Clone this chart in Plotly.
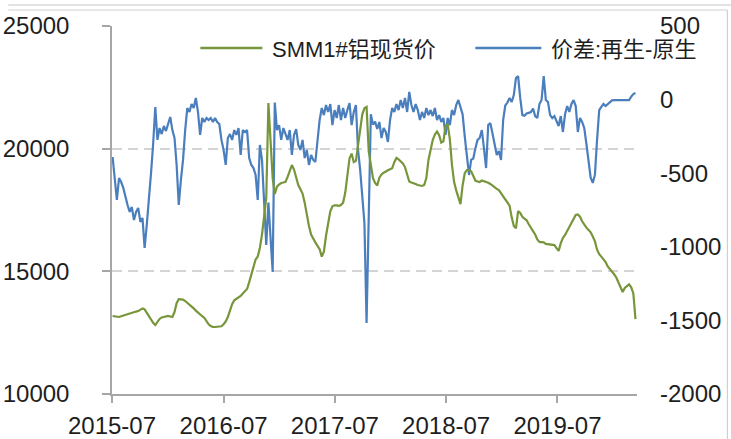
import pandas as pd
import plotly.graph_objects as go

# ---------------- data (weekly samples) ----------------
start_date = "2015-07-03"

spread = [  # 价差:再生-原生 (right axis)
    -390, -560, -682, -533, -560, -600, -668, -716, -763, -730,
    -818, -763, -736, -831, -804, -1008, -852, -700, -500, -300,
    -50, -274, -193, -234, -179, -213, -166, -118, -207, -261,
    -444, -716, -546, -410, -207, -57, -84, -30, -57, 11,
    -84, -240, -125, -152, -125, -139, -125, -152, -125, -152,
    -166, -274, -342, -444, -261, -234, -274, -207, -240, -193,
    -376, -207, -220, -207, -397, -444, -465, -512, -682, -308,
    -410, -682, -988, -700, -950, -1171, -20, -207, -173, -274,
    -193, -240, -274, -207, -376, -240, -200, -308, -342, -274,
    -397, -342, -444, -376, -410, -424, -274, -139, -57, -105,
    -37, -84, -30, -173, -71, -125, -37, -139, -57, -125,
    -71, -23, -173, -84, -37, -342, -478, -682, -840, -1517,
    -700, -100, -170, -150, -200, -152, -261, -193, -220, -288,
    -139, -57, -84, -30, -71, -3, -57, 11, -84, 52,
    -37, -84, -30, -71, -139, -84, -125, -57, -105, -71,
    -112, -57, -139, -105, -152, -125, -240, -125, -173, -71,
    -105, -37, -3, -57, -100, -250, -400, -512, -410, -400,
    -330, -274, -261, -207, -330, -465, -173, -160, -230, -300,
    -376, -350, -410, -139, -40, -20, 11, -16, 31, 147,
    160, 11, -105, -110, -95, -90, -85, -60, -112, -125,
    -30, -3, 160, -3, -16, -105, -125, -112, -152, -179,
    -112, -220, -100, -44, -84, -30, -3, -44, -220, -125,
    -152, -193, -300, -420, -530, -566, -510, -274, -71, -50,
    -30, -44, -30, -16, -5, -3, -3, -3, -3, -3,
    -3, -3, -3, 20, 38, 45,
]

price = [  # SMM1#铝现货价 (left axis)
    13180, 13160, 13150, 13140, 13170, 13200, 13220, 13260, 13300, 13330,
    13350, 13360, 13380, 13430, 13490, 13450, 13310, 13180, 13000, 12900,
    12810, 12950, 13060, 13120, 13150, 13170, 13180, 13160, 13140, 13340,
    13700, 13870, 13870, 13850, 13790, 13720, 13650, 13580, 13490, 13400,
    13310, 13240, 13170, 13100, 12960, 12840, 12770, 12730, 12730, 12730,
    12740, 12760, 12840, 12960, 13140, 13410, 13660, 13820, 13870, 13920,
    14000, 14100, 14180, 14280, 14560, 14840, 15150, 15480, 15600, 15950,
    16500, 17300, 18000, 21860, 20400, 18800, 18150, 18450, 18540, 18600,
    18620, 18650, 18850, 19080, 19330, 19150, 18850, 18520, 18350, 18170,
    17800, 17300, 16850, 16500, 16320, 16180, 16040, 15900, 15600, 15800,
    16450, 16960, 17450, 17650, 17690, 17690, 17670, 17700, 17800, 18200,
    19000, 19600, 19800, 19450, 19500, 20150, 20900, 21400, 21650, 21700,
    19900, 19250, 18800, 18600, 18500, 18820, 18950, 19020, 19080, 19120,
    19160, 19200, 19450, 19620, 19560, 19480, 19400, 19250, 18980, 18660,
    18620, 18600, 18560, 18520, 18500, 18480, 18520, 18800, 19540, 20000,
    20350, 20580, 20700, 20550, 20250, 20300, 20920, 21000, 20400, 19350,
    18650, 18300, 18000, 17740, 18500, 19000, 19130, 19130, 19080, 18850,
    18700, 18660, 18640, 18700, 18680, 18650, 18610, 18560, 18480, 18400,
    18360, 18310, 18190, 18080, 17970, 17840, 17680, 17200, 16850, 16750,
    17450, 17380, 17220, 17150, 17080, 16920, 16750, 16640, 16500, 16300,
    16200, 16200, 16180, 16120, 16110, 16110, 16090, 16070, 15950, 15830,
    16150, 16360, 16480, 16650, 16800, 16950, 17170, 17300, 17320, 17230,
    17040, 16900, 16780, 16690, 16590, 16420, 16220, 15880, 15700, 15600,
    15510, 15380, 15200, 15100, 14990, 14880, 14750, 14560, 14350, 14160,
    14320, 14400, 14470, 14350, 14100, 13050,
]

x_tick_vals = ["2015-07-01", "2016-07-01", "2017-07-01", "2018-07-01", "2019-07-01"]
x_tick_text = ["2015-07", "2016-07", "2017-07", "2018-07", "2019-07"]
x_range = ["2015-07-01", "2020-03-18"]
left_ticks = [10000, 15000, 20000, 25000]
left_tick_text = ["10000", "15000", "20000", "25000"]
right_ticks = [500, 0, -500, -1000, -1500, -2000]
right_tick_text = ["500", "0", "-500", "-1000", "-1500", "-2000"]

name_price = "SMM1#铝现货价"
name_spread = "价差:再生-原生"

dates = pd.date_range(start_date, periods=len(price), freq="7D")

# ---------------- style ----------------
W, H = 731, 439
L, R, T, B = 111.7, 636.6, 26, 394
GREEN = "#77963a"
BLUE = "#4a7ebd"
AXIS = "#a6a6a6"
GRID = "#d4d4d4"
TXT = "#1e1e1e"
FONT = "Liberation Sans, Arial, Noto Sans CJK SC, sans-serif"


def px(x):
    return (x - L) / (R - L)


def py(y):
    return (B - y) / (B - T)


fig = go.Figure()
fig.add_trace(go.Scatter(x=dates, y=spread, yaxis="y", mode="lines", name=name_spread,
                         line=dict(color=BLUE, width=2.2), showlegend=False))
fig.add_trace(go.Scatter(x=dates, y=price, yaxis="y2", mode="lines", name=name_price,
                         line=dict(color=GREEN, width=2.2), showlegend=False))

shapes = []
annotations = []
# custom legend
for (x0, x1, col, label) in [(200, 262, GREEN, name_price), (475, 541, BLUE, name_spread)]:
    shapes.append(dict(type="line", xref="paper", yref="paper", x0=px(x0), x1=px(x1),
                       y0=py(48), y1=py(48), line=dict(color=col, width=2.5)))
    annotations.append(dict(xref="paper", yref="paper", x=px(x1 + 8), y=py(49.5),
                            xanchor="left", yanchor="middle", showarrow=False, text=label,
                            font=dict(size=22, color=TXT, family=FONT)))
# chart border
shapes.append(dict(type="line", xref="paper", yref="paper", x0=px(8), x1=px(731),
                   y0=py(5), y1=py(5), line=dict(color="#c8c8c8", width=1.2)))
shapes.append(dict(type="line", xref="paper", yref="paper", x0=px(8), x1=px(727),
                   y0=py(10), y1=py(10), line=dict(color="#d0d0d0", width=1.2)))
shapes.append(dict(type="line", xref="paper", yref="paper", x0=px(727), x1=px(727),
                   y0=py(10), y1=py(439), line=dict(color="#d0d0d0", width=1.2)))

fig.update_layout(
    width=W, height=H,
    margin=dict(l=L, r=W - R, t=T, b=H - B, autoexpand=False),
    paper_bgcolor="white", plot_bgcolor="white",
    font=dict(family=FONT, size=24, color=TXT),
    showlegend=False,
    xaxis=dict(type="date", range=x_range, tickvals=x_tick_vals, ticktext=x_tick_text,
               showgrid=False, zeroline=False, showline=True, linecolor=AXIS, linewidth=1.5,
               ticks="outside", ticklen=7, tickcolor=AXIS, tickwidth=1.5,
               tickfont=dict(size=24, color=TXT), ticklabelstandoff=2),
    yaxis=dict(side="right", range=[-2000, 500], tickvals=right_ticks, ticktext=right_tick_text,
               showgrid=False, zeroline=False, showline=False, ticks="",
               tickfont=dict(size=24, color=TXT), ticklabelstandoff=22),
    yaxis2=dict(side="left", overlaying="y", range=[10000, 25000], tickvals=left_ticks,
                ticktext=left_tick_text,
                showgrid=True, gridcolor=GRID, gridwidth=1.5, griddash="10px,6px",
                zeroline=False, showline=True, linecolor=AXIS, linewidth=1.5,
                ticks="outside", ticklen=8, tickcolor=AXIS, tickwidth=1.5,
                tickfont=dict(size=24, color=TXT), ticklabelstandoff=28),
    shapes=shapes,
    annotations=annotations,
)

fig.write_html("out.html", config={"displayModeBar": False},
               post_script="document.body.style.margin='0px';document.body.style.overflow='hidden';")
